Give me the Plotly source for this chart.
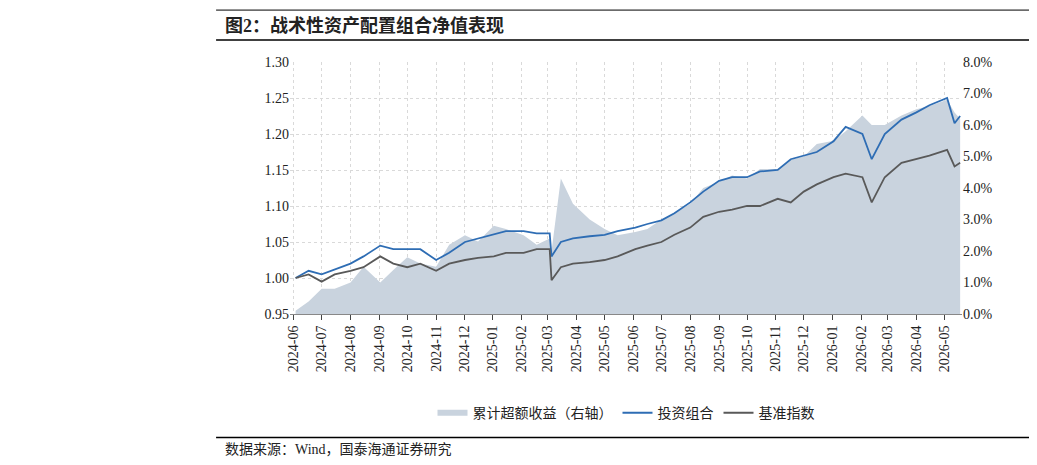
import plotly.graph_objects as go

dates = ["2024-06-03","2024-06-17","2024-07-01","2024-07-15","2024-08-01","2024-08-15","2024-09-02","2024-09-16",
 "2024-10-01","2024-10-15","2024-11-01","2024-11-15","2024-12-02","2024-12-16","2025-01-02","2025-01-15",
 "2025-02-03","2025-02-17","2025-03-03","2025-03-05","2025-03-15","2025-03-28","2025-04-15","2025-05-01",
 "2025-05-15","2025-06-03","2025-06-16","2025-07-01","2025-07-15","2025-08-01","2025-08-15","2025-09-01",
 "2025-09-15","2025-10-01","2025-10-15","2025-11-03","2025-11-17","2025-12-01","2025-12-15","2026-01-02",
 "2026-01-15","2026-02-02","2026-02-12","2026-02-26","2026-03-16","2026-04-01","2026-04-15","2026-05-04",
 "2026-05-12","2026-05-18"]
portfolio = [1.000,1.010,1.005,1.012,1.020,1.030,1.045,1.040,1.040,1.040,1.025,1.035,1.050,1.055,1.060,1.065,
 1.065,1.062,1.062,1.030,1.050,1.055,1.058,1.060,1.065,1.070,1.075,1.080,1.090,1.105,1.120,1.135,
 1.140,1.140,1.148,1.150,1.165,1.170,1.175,1.190,1.210,1.200,1.165,1.200,1.220,1.230,1.240,1.250,
 1.215,1.225]
benchmark = [1.000,1.005,0.995,1.005,1.010,1.015,1.030,1.020,1.015,1.020,1.010,1.020,1.025,1.028,1.030,1.035,
 1.035,1.040,1.040,0.997,1.015,1.020,1.022,1.025,1.030,1.040,1.045,1.050,1.060,1.070,1.085,1.092,
 1.095,1.100,1.100,1.110,1.105,1.120,1.130,1.140,1.145,1.140,1.105,1.140,1.160,1.165,1.170,1.178,
 1.155,1.160]
excess = [0.1,0.4,0.8,0.8,1.0,1.5,1.0,1.4,1.8,1.6,1.5,2.2,2.5,2.3,2.8,2.7,2.5,2.2,2.4,2.0,4.3,3.5,3.0,
 2.7,2.5,2.6,2.7,3.0,3.2,3.5,4.0,4.2,4.4,4.3,4.6,4.6,4.9,5.0,5.4,5.5,5.8,6.3,6.0,6.0,6.3,6.5,6.6,
 6.8,6.4,6.2]

font = "Liberation Serif, Noto Sans CJK SC"
fig = go.Figure()
fig.add_trace(go.Scatter(x=dates, y=[e/100 for e in excess], yaxis="y", fill="tozeroy", mode="none",
    fillcolor="#C9D3DE", name="累计超额收益（右轴）"))
fig.add_trace(go.Scatter(x=dates, y=portfolio, yaxis="y2", mode="lines", line=dict(color="#2E6DB4", width=1.8), name="投资组合"))
fig.add_trace(go.Scatter(x=dates, y=benchmark, yaxis="y2", mode="lines", line=dict(color="#595959", width=1.8), name="基准指数"))

grid = dict(showgrid=True, gridcolor="#D9D9D9", griddash="dot", gridwidth=1)
fig.update_layout(
    width=1037, height=465, plot_bgcolor="white", paper_bgcolor="white",
    margin=dict(l=282, r=83, t=54, b=159, autoexpand=False),
    font=dict(family=font, size=14, color="#222"),
    xaxis=dict(type="date", range=["2024-05-28","2026-05-20"], dtick="M1", tick0="2024-06-01",
               tickformat="%Y-%m", tickangle=-90, showline=True, linecolor="#888", ticks="outside", **grid),
    yaxis=dict(range=[0,0.08], dtick=0.01, tickformat=".1%", side="right", showgrid=False),
    yaxis2=dict(range=[0.95,1.30], dtick=0.05, tickformat=".2f", overlaying="y", side="left", **grid),
    legend=dict(orientation="h", x=0.5, xanchor="center", y=-0.33, yanchor="top", font=dict(size=14),
                traceorder="normal"),
    shapes=[dict(type="line", xref="paper", yref="paper", x0=-0.11, x1=1.11, y0=1.206, y1=1.206, line=dict(color="black", width=1)),
            dict(type="line", xref="paper", yref="paper", x0=-0.11, x1=1.11, y0=1.087, y1=1.087, line=dict(color="black", width=1.5)),
            dict(type="line", xref="paper", yref="paper", x0=-0.11, x1=1.11, y0=-0.49, y1=-0.49, line=dict(color="black", width=1.5))],
    annotations=[dict(text="<b>图2：战术性资产配置组合净值表现</b>", xref="paper", yref="paper", x=-0.1, y=1.095,
                      xanchor="left", yanchor="bottom", showarrow=False, font=dict(size=18)),
                 dict(text="数据来源：Wind，国泰海通证券研究", xref="paper", yref="paper", x=-0.1, y=-0.5,
                      xanchor="left", yanchor="top", showarrow=False, font=dict(size=14))],
)
fig.write_html("out.html")
